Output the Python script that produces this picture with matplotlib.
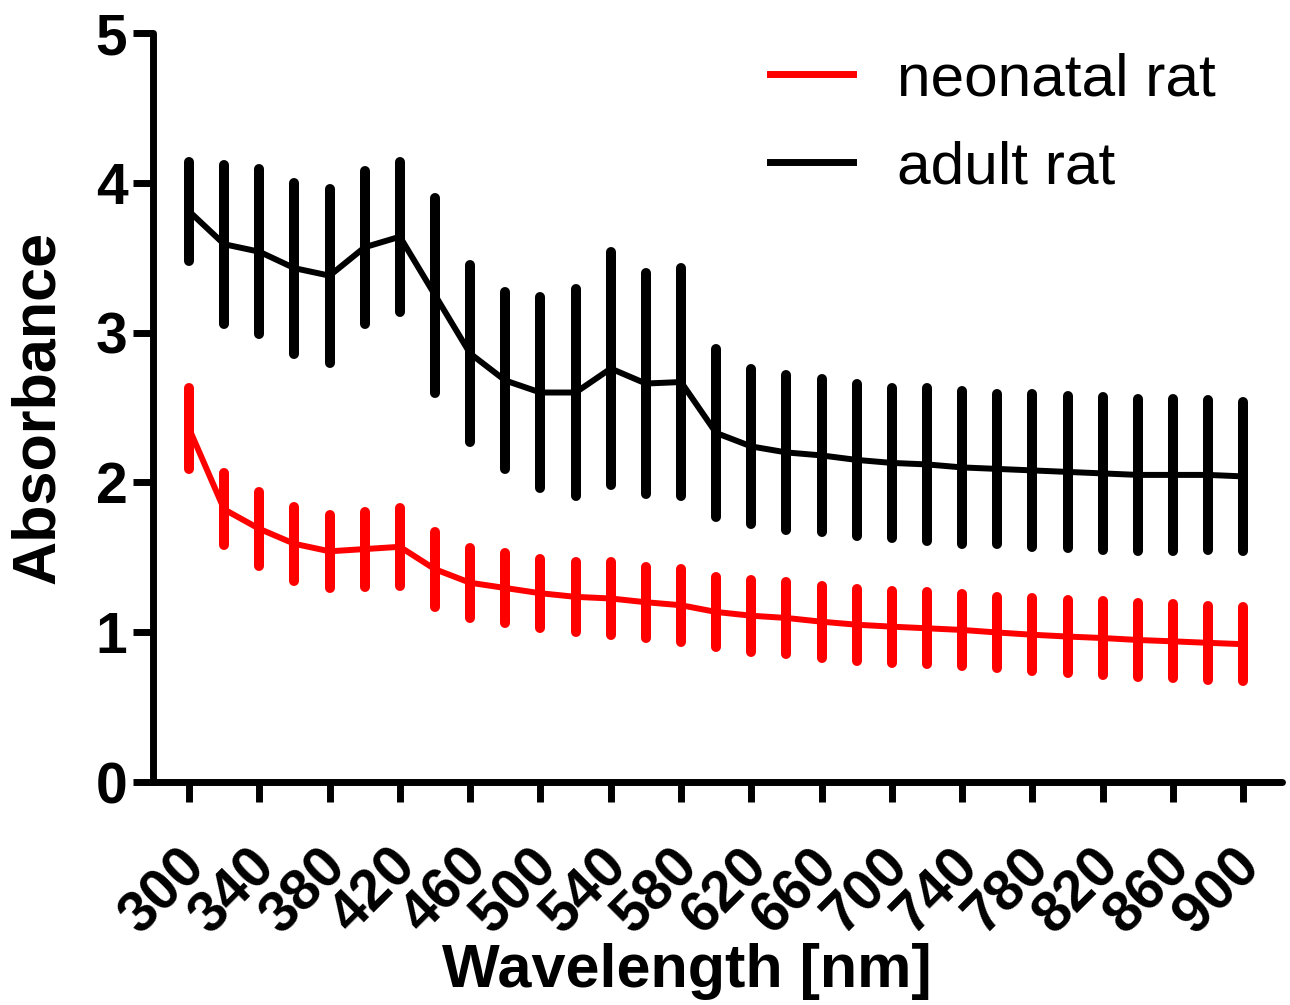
import numpy as np
import matplotlib as mpl
mpl.use('Agg')
import matplotlib.pyplot as plt
import matplotlib.transforms as mtransforms
from matplotlib.lines import Line2D

## data
wavelength = list(range(300, 901, 20))

neonatal_mean = [2.36, 1.82, 1.69, 1.59, 1.54, 1.555, 1.57, 1.42, 1.33, 1.295, 1.26,
                 1.236, 1.225, 1.20, 1.18, 1.135, 1.11, 1.095, 1.07, 1.05, 1.037,
                 1.026, 1.015, 0.998, 0.983, 0.971, 0.961, 0.948, 0.939, 0.929, 0.92]
neonatal_sd = [0.27, 0.24, 0.245, 0.245, 0.245, 0.25, 0.26, 0.25, 0.235, 0.234, 0.23,
               0.235, 0.245, 0.238, 0.243, 0.234, 0.24, 0.24, 0.24, 0.24, 0.24,
               0.24, 0.24, 0.238, 0.243, 0.243, 0.245, 0.245, 0.247, 0.248, 0.249]

adult_mean = [3.81, 3.59, 3.54, 3.43, 3.38, 3.57, 3.64, 3.25, 2.86, 2.68, 2.60,
              2.60, 2.76, 2.66, 2.67, 2.33, 2.24, 2.20, 2.18, 2.15, 2.13,
              2.12, 2.10, 2.09, 2.08, 2.07, 2.06, 2.05, 2.05, 2.05, 2.04]
adult_sd = [0.33, 0.53, 0.55, 0.57, 0.58, 0.51, 0.50, 0.65, 0.59, 0.59, 0.64,
            0.69, 0.78, 0.74, 0.76, 0.56, 0.52, 0.52, 0.51, 0.51, 0.50,
            0.51, 0.51, 0.50, 0.51, 0.51, 0.51, 0.51, 0.51, 0.50, 0.50]

xtick_values = list(range(300, 901, 40))
ytick_values = [0, 1, 2, 3, 4, 5]

series = [('neonatal rat', neonatal_mean, neonatal_sd, '#ff0000'),
          ('adult rat', adult_mean, adult_sd, '#000000')]

plt.rcParams['font.family'] = ['Liberation Sans', 'DejaVu Sans']

W, H = 1290, 1005
fig = plt.figure(figsize=(W / 100, H / 100), dpi=100)
ax = fig.add_axes([153 / W, 1 - 782 / H, (1282 - 153) / W, (782 - 33) / H])

for name, mean, sd, col in series:
    eb = ax.errorbar(wavelength, mean, yerr=sd, fmt='-', color=col, lw=4.3,
                     elinewidth=7.2, capsize=0, solid_joinstyle='round',
                     solid_capstyle='round')
    eb[2][0].set_capstyle('round')

ax.set_xlim(279.5, 922)
ax.set_ylim(0, 5)
ax.set_xticks(xtick_values)
ax.set_xticklabels([str(v) for v in xtick_values], rotation=45, ha='right',
                   va='center', rotation_mode='anchor')
ax.set_yticks(ytick_values)

for s in ['top', 'right']:
    ax.spines[s].set_visible(False)
for s in ['left', 'bottom']:
    ax.spines[s].set_linewidth(5)
    ax.spines[s].set_capstyle('round')
ax.tick_params(axis='both', length=14.5, width=5, direction='out',
               labelsize=41, colors='black')
ax.tick_params(axis='x', pad=40)
ax.tick_params(axis='y', pad=4)
## nudge rotated labels a bit to the right, as in the original
shift = mtransforms.ScaledTranslation(8 / 100, 0, fig.dpi_scale_trans)
for lbl in ax.get_xticklabels():
    lbl.set_transform(lbl.get_transform() + shift)
for lbl in ax.get_xticklabels() + ax.get_yticklabels():
    lbl.set_fontweight('bold')

ax.set_xlabel('Wavelength [nm]', fontsize=44, fontweight='bold')
ax.set_ylabel('Absorbance', fontsize=44, fontweight='bold')
ax.xaxis.set_label_coords((687 - 153) / (1282 - 153), (782 - 972) / (782 - 33))
ax.yaxis.set_label_coords((38 - 153) / (1282 - 153), 0.5)
ax.xaxis.label.set_va('center')
ax.yaxis.label.set_va('center')

handles = [Line2D([], [], color=col, lw=5) for _, _, _, col in series]
leg = ax.legend(handles, [s[0] for s in series], loc='upper left',
                bbox_to_anchor=(770 / W, 1 - 52 / H), bbox_transform=fig.transFigure,
                frameon=False, fontsize=43.5, handlelength=1.37, handletextpad=0.74,
                labelspacing=0.55, borderpad=0, borderaxespad=0)

fig.savefig('out.png', dpi=100, facecolor='white')
